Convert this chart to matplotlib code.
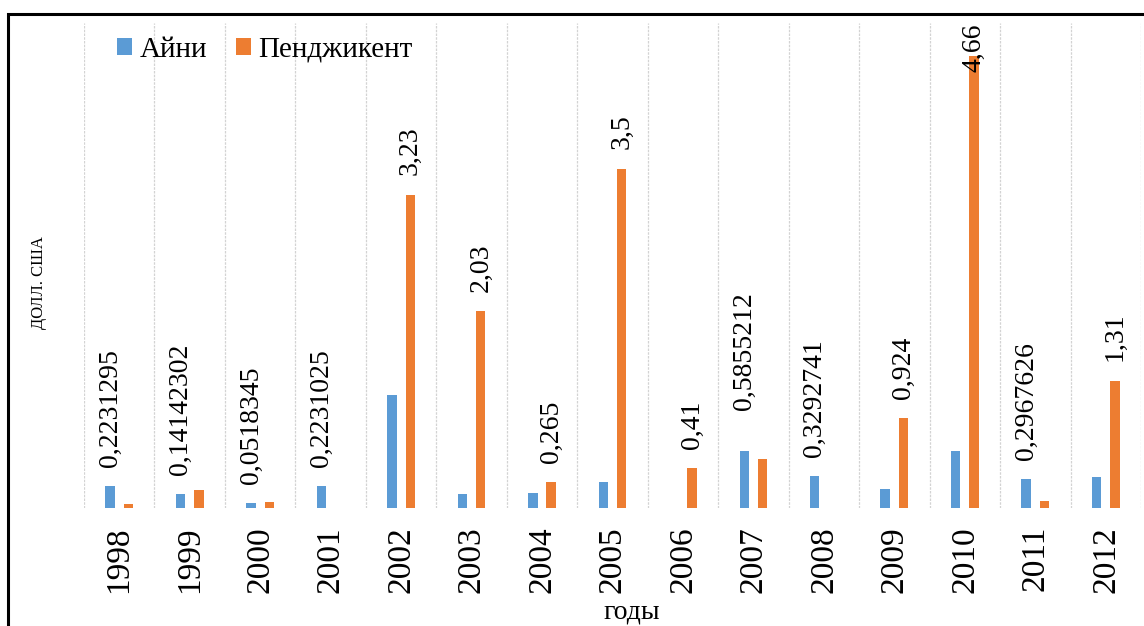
import numpy as np
import matplotlib
matplotlib.use('Agg')
import matplotlib.pyplot as plt
from matplotlib.patches import Rectangle

years = ['1998', '1999', '2000', '2001', '2002', '2003', '2004', '2005',
         '2006', '2007', '2008', '2009', '2010', '2011', '2012']
aini = [0.2231295, 0.14142302, 0.0518345, 0.2231025, 1.16, 0.14, 0.15, 0.27,
        0.0, 0.5855212, 0.3292741, 0.20, 0.59, 0.2967626, 0.32]
penj = [0.04, 0.19, 0.06, 0.0, 3.23, 2.03, 0.265, 3.5,
        0.41, 0.51, 0.0, 0.924, 4.66, 0.07, 1.31]
# which series carries the value label in each year: 'a' - Айни, 'p' - Пенджикент
label_on = ['a', 'a', 'a', 'a', 'p', 'p', 'p', 'p', 'p', 'a', 'a', 'p', 'p', 'a', 'p']

BLUE = '#5B9BD5'
ORANGE = '#ED7D31'
FONT = 'Liberation Serif'

plt.rcParams['font.family'] = [FONT, 'DejaVu Serif']

W, H = 1144, 626
fig = plt.figure(figsize=(W / 100, H / 100), dpi=100)
ax = fig.add_axes([84 / W, 118 / H, 1057 / W, 485 / H])

x = np.arange(len(years))
bw = 0.135
off = 0.13
ax.bar(x - off, aini, bw, color=BLUE, label='Айни')
ax.bar(x + off, penj, bw, color=ORANGE, label='Пенджикент')

ax.set_xlim(-0.5, len(years) - 0.5)
ax.set_ylim(0, 5.0)
for s in ax.spines.values():
    s.set_visible(False)
ax.set_yticks([])
ax.set_xticks(x)
ax.set_xticklabels(years, rotation=90, fontsize=24, family=FONT)
ax.tick_params(axis='x', length=0, pad=13)

# vertical separators between years
for b in np.arange(-0.5, len(years), 1.0):
    ax.axvline(b, color='#d3d3d3', lw=0.9, ls=(0, (2, 1)), zorder=0)

fig.canvas.draw()
renderer = fig.canvas.get_renderer()
ax_top = ax.get_window_extent(renderer).y1

extra_pad = {'2007': 16}
for i, yr in enumerate(years):
    if label_on[i] == 'a':
        xv, v = x[i] - off, aini[i]
    else:
        xv, v = x[i] + off, penj[i]
    txt = str(v).replace('.', ',')
    pad = 14 + extra_pad.get(yr, 0)
    t = ax.annotate(txt, (xv, v), xytext=(0, pad), textcoords='offset points',
                    rotation=90, ha='center', va='bottom', fontsize=20,
                    family=FONT, annotation_clip=False)
    bb = t.get_window_extent(renderer)
    if bb.y1 > ax_top:
        # keep the label inside the plot area
        t.xy = (xv, ax.get_ylim()[1])
        t.xyann = (0, 0)
        t.set_va('top')

ax.legend(loc='center left', bbox_to_anchor=(117 / W, 576 / H),
          bbox_transform=fig.transFigure, ncol=2, frameon=False,
          handlelength=0.52, handleheight=0.52,
          handletextpad=0.25, columnspacing=1.0, borderpad=0,
          borderaxespad=0, prop={'family': FONT, 'size': 21})

fig.text(39 / W, 343 / H, 'ДОЛЛ. США', rotation=90, ha='center', va='center',
         fontsize=12, family=FONT)
fig.text(632 / W, 14 / H, 'годы', ha='center', va='center', fontsize=20,
         family=FONT)

# outer frame
fig.patches.append(Rectangle((8 / W, -0.2), 1.2, (H - 14) / H + 0.2,
                             transform=fig.transFigure, fill=False,
                             edgecolor='black', lw=2.2, zorder=10))

fig.savefig('out.png', dpi=100)
